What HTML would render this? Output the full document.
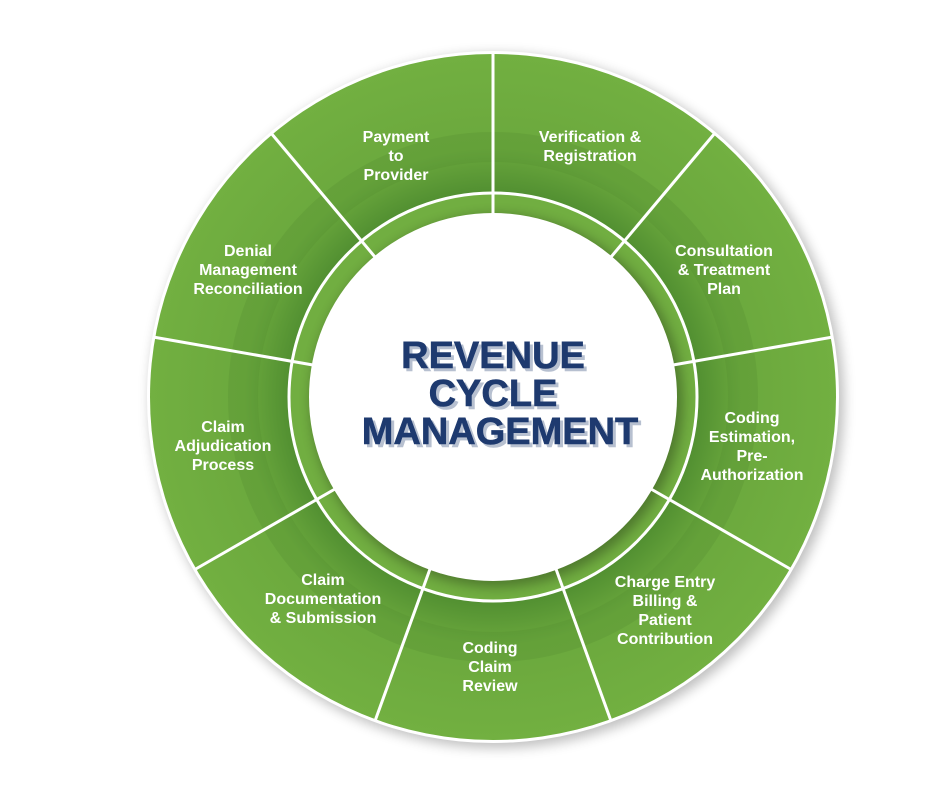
<!DOCTYPE html>
<html><head><meta charset="utf-8"><style>
html,body{margin:0;padding:0;background:#fff;}
svg{display:block;}
.l{font-family:"Liberation Sans",sans-serif;font-weight:bold;font-size:16px;fill:#fff;text-anchor:middle;}
.t{font-family:"Liberation Sans",sans-serif;font-weight:900;font-size:38px;fill:#1e3a6f;text-anchor:middle;stroke:#1e3a6f;stroke-width:0.6px;}
.ts{font-family:"Liberation Sans",sans-serif;font-weight:900;font-size:38px;fill:#b7c0d0;text-anchor:middle;stroke:#b7c0d0;stroke-width:0.6px;}
</style></head><body>
<svg width="940" height="788" viewBox="0 0 940 788">
<defs>
<filter id="sh" x="-20%" y="-20%" width="140%" height="140%"><feGaussianBlur stdDeviation="6"/></filter>
<radialGradient id="rg" cx="493" cy="397" r="345" gradientUnits="userSpaceOnUse">
<stop offset="0.58" stop-color="#4f8d30"/>
<stop offset="0.72" stop-color="#6ba83d"/>
<stop offset="1" stop-color="#72b041"/>
</radialGradient>
</defs>
<circle cx="497" cy="401" r="347" fill="#000" opacity="0.25" filter="url(#sh)"/>
<circle cx="493" cy="397" r="346" fill="#fff"/>
<circle cx="493" cy="397" r="343" fill="url(#rg)"/>
<circle cx="493" cy="397" r="250" fill="none" stroke="#4f8a2f" stroke-width="30" opacity="0.25"/>
<circle cx="493" cy="397" r="204" fill="#71ae41" stroke="#fff" stroke-width="3"/>
<circle cx="497" cy="401" r="186" fill="#000" opacity="0.3" filter="url(#sh)"/>
<circle cx="493" cy="397" r="184" fill="#fff"/>
<g stroke="#fff" stroke-width="3">
<line x1="493" y1="214" x2="493" y2="52"/>
<line x1="611" y1="257" x2="715" y2="133"/>
<line x1="673" y1="365" x2="833" y2="337"/>
<line x1="651" y1="489" x2="792" y2="570"/>
<line x1="556" y1="569" x2="611" y2="721"/>
<line x1="430" y1="569" x2="375" y2="721"/>
<line x1="335" y1="489" x2="194" y2="570"/>
<line x1="313" y1="365" x2="153" y2="337"/>
<line x1="375" y1="257" x2="271" y2="133"/>
</g>
<text class="l" x="396" y="142">Payment</text>
<text class="l" x="396" y="161">to</text>
<text class="l" x="396" y="180">Provider</text>
<text class="l" x="590" y="142">Verification &amp;</text>
<text class="l" x="590" y="161">Registration</text>
<text class="l" x="724" y="256">Consultation</text>
<text class="l" x="724" y="275">&amp; Treatment</text>
<text class="l" x="724" y="294">Plan</text>
<text class="l" x="752" y="423">Coding</text>
<text class="l" x="752" y="442">Estimation,</text>
<text class="l" x="752" y="461">Pre-</text>
<text class="l" x="752" y="480">Authorization</text>
<text class="l" x="665" y="587">Charge Entry</text>
<text class="l" x="665" y="606">Billing &amp;</text>
<text class="l" x="665" y="625">Patient</text>
<text class="l" x="665" y="644">Contribution</text>
<text class="l" x="490" y="653">Coding</text>
<text class="l" x="490" y="672">Claim</text>
<text class="l" x="490" y="691">Review</text>
<text class="l" x="323" y="585">Claim</text>
<text class="l" x="323" y="604">Documentation</text>
<text class="l" x="323" y="623">&amp; Submission</text>
<text class="l" x="223" y="432">Claim</text>
<text class="l" x="223" y="451">Adjudication</text>
<text class="l" x="223" y="470">Process</text>
<text class="l" x="248" y="256">Denial</text>
<text class="l" x="248" y="275">Management</text>
<text class="l" x="248" y="294">Reconciliation</text>
<text class="ts" x="496" y="371">REVENUE</text>
<text class="ts" x="496" y="409">CYCLE</text>
<text class="ts" x="503" y="447">MANAGEMENT</text>
<text class="t" x="493" y="368">REVENUE</text>
<text class="t" x="493" y="406">CYCLE</text>
<text class="t" x="500" y="444">MANAGEMENT</text>
</svg>
</body></html>
